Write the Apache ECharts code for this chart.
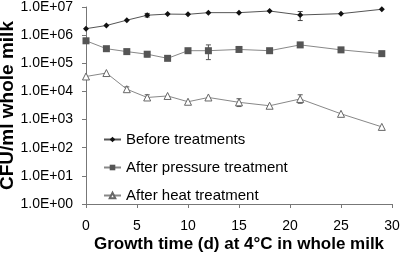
<!DOCTYPE html>
<html>
<head>
<meta charset="utf-8">
<script src="https://cdn.jsdelivr.net/npm/echarts@6/dist/echarts.min.js"></script>
<style>
  html, body { margin: 0; padding: 0; background: #fff; }
  #chart { width: 400px; height: 254px; }
</style>
</head>
<body>
<div id="chart"></div>
<script>
// days of storage
const days = [0, 2, 4, 6, 8, 10, 12, 15, 18, 21, 25, 29];

// CFU/ml
const beforeVals = [1.7e6, 2.2e6, 3.4e6, 5.1e6, 5.6e6, 5.5e6, 6.3e6, 6.3e6, 7.2e6, 5.2e6, 5.8e6, 8.3e6];
const pressureVals = [6.3e5, 3.3e5, 2.6e5, 2.1e5, 1.5e5, 2.8e5, 2.8e5, 3.1e5, 2.8e5, 4.5e5, 3.0e5, 2.2e5];
const heatVals = [3.4e4, 4.5e4, 1.2e4, 6.1e3, 6.9e3, 4.3e3, 6.1e3, 4.1e3, 3.1e3, 5.4e3, 1.6e3, 5.5e2];

// error bars: [day, low, high]
const beforeErr = [[6, 4.4e6, 5.9e6], [21, 3.3e6, 6.9e6]];
const pressureErr = [[6, 1.7e5, 2.4e5], [12, 1.35e5, 4.5e5]];
const heatErr = [[4, 9.9e3, 1.45e4], [6, 5.1e3, 7.6e3], [15, 2.9e3, 5.5e3], [21, 3.8e3, 7.6e3]];

const seriesNames = ['Before treatments', 'After pressure treatment', 'After heat treatment'];

const font = 'Liberation Sans, Arial, sans-serif';

function pairs(vals) {
    return days.map((d, i) => [d, vals[i]]);
}

function errSeries(data, color) {
    return {
        type: 'custom',
        data: data,
        z: 1,
        renderItem: function (params, api) {
            const x = api.value(0);
            const lo = api.coord([x, api.value(1)]);
            const hi = api.coord([x, api.value(2)]);
            const w = 2.5;
            const st = { stroke: color, lineWidth: 1 };
            return {
                type: 'group',
                children: [
                    { type: 'line', shape: { x1: lo[0], y1: lo[1], x2: hi[0], y2: hi[1] }, style: st },
                    { type: 'line', shape: { x1: lo[0] - w, y1: lo[1], x2: lo[0] + w, y2: lo[1] }, style: st },
                    { type: 'line', shape: { x1: hi[0] - w, y1: hi[1], x2: hi[0] + w, y2: hi[1] }, style: st }
                ]
            };
        }
    };
}

const chart = echarts.init(document.getElementById('chart'));

chart.setOption({
    animation: false,
    backgroundColor: '#fff',
    textStyle: { fontFamily: font },
    grid: { left: 86, right: 8, top: 7, bottom: 50, outerBoundsMode: 'none', containLabel: false },
    legend: {
        orient: 'vertical',
        left: 98,
        top: 127,
        itemGap: 13,
        itemWidth: 17,
        itemHeight: 7,
        textStyle: { fontSize: 15, color: '#000', fontFamily: font },
        data: seriesNames
    },
    xAxis: {
        type: 'value',
        min: 0,
        max: 30,
        interval: 5,
        axisLine: { lineStyle: { color: '#777' } },
        axisTick: { show: true, length: 4, lineStyle: { color: '#777' } },
        splitLine: { show: false },
        axisLabel: { fontSize: 14, color: '#000', margin: 15, fontFamily: font },
        name: 'Growth time (d) at 4°C in whole milk',
        nameLocation: 'middle',
        nameGap: 32,
        nameMoveOverlap: false,
        nameTextStyle: { fontSize: 17, fontWeight: 'bold', color: '#000', fontFamily: font }
    },
    yAxis: {
        type: 'log',
        logBase: 10,
        min: 1,
        max: 1e7,
        axisLine: { show: true, lineStyle: { color: '#777' } },
        axisTick: { show: true, length: 4, lineStyle: { color: '#777' } },
        splitLine: { show: false },
        minorTick: { show: false },
        axisLabel: {
            fontSize: 14,
            color: '#000',
            margin: 13,
            fontFamily: font,
            formatter: function (v) {
                const e = Math.round(Math.log10(v));
                return '1.0E+' + (e < 10 ? '0' + e : e);
            }
        },
        name: 'CFU/ml whole milk',
        nameLocation: 'middle',
        nameGap: 69,
        nameMoveOverlap: false,
        nameTextStyle: { fontSize: 19, fontWeight: 'bold', color: '#000', fontFamily: font }
    },
    series: [
        errSeries(beforeErr, '#444'),
        errSeries(pressureErr, '#555'),
        errSeries(heatErr, '#555'),
        {
            name: seriesNames[0],
            type: 'line',
            data: pairs(beforeVals),
            symbol: 'diamond',
            symbolSize: 6,
            lineStyle: { color: '#555', width: 1 },
            itemStyle: { color: '#111' },
            z: 3
        },
        {
            name: seriesNames[1],
            type: 'line',
            data: pairs(pressureVals),
            symbol: 'rect',
            symbolSize: 7,
            lineStyle: { color: '#888', width: 1 },
            itemStyle: { color: '#555' },
            z: 3
        },
        {
            name: seriesNames[2],
            type: 'line',
            data: pairs(heatVals),
            symbol: 'triangle',
            symbolSize: 7,
            lineStyle: { color: '#888', width: 1 },
            itemStyle: { color: '#fff', borderColor: '#666', borderWidth: 1 },
            z: 3
        }
    ]
});
</script>
</body>
</html>
